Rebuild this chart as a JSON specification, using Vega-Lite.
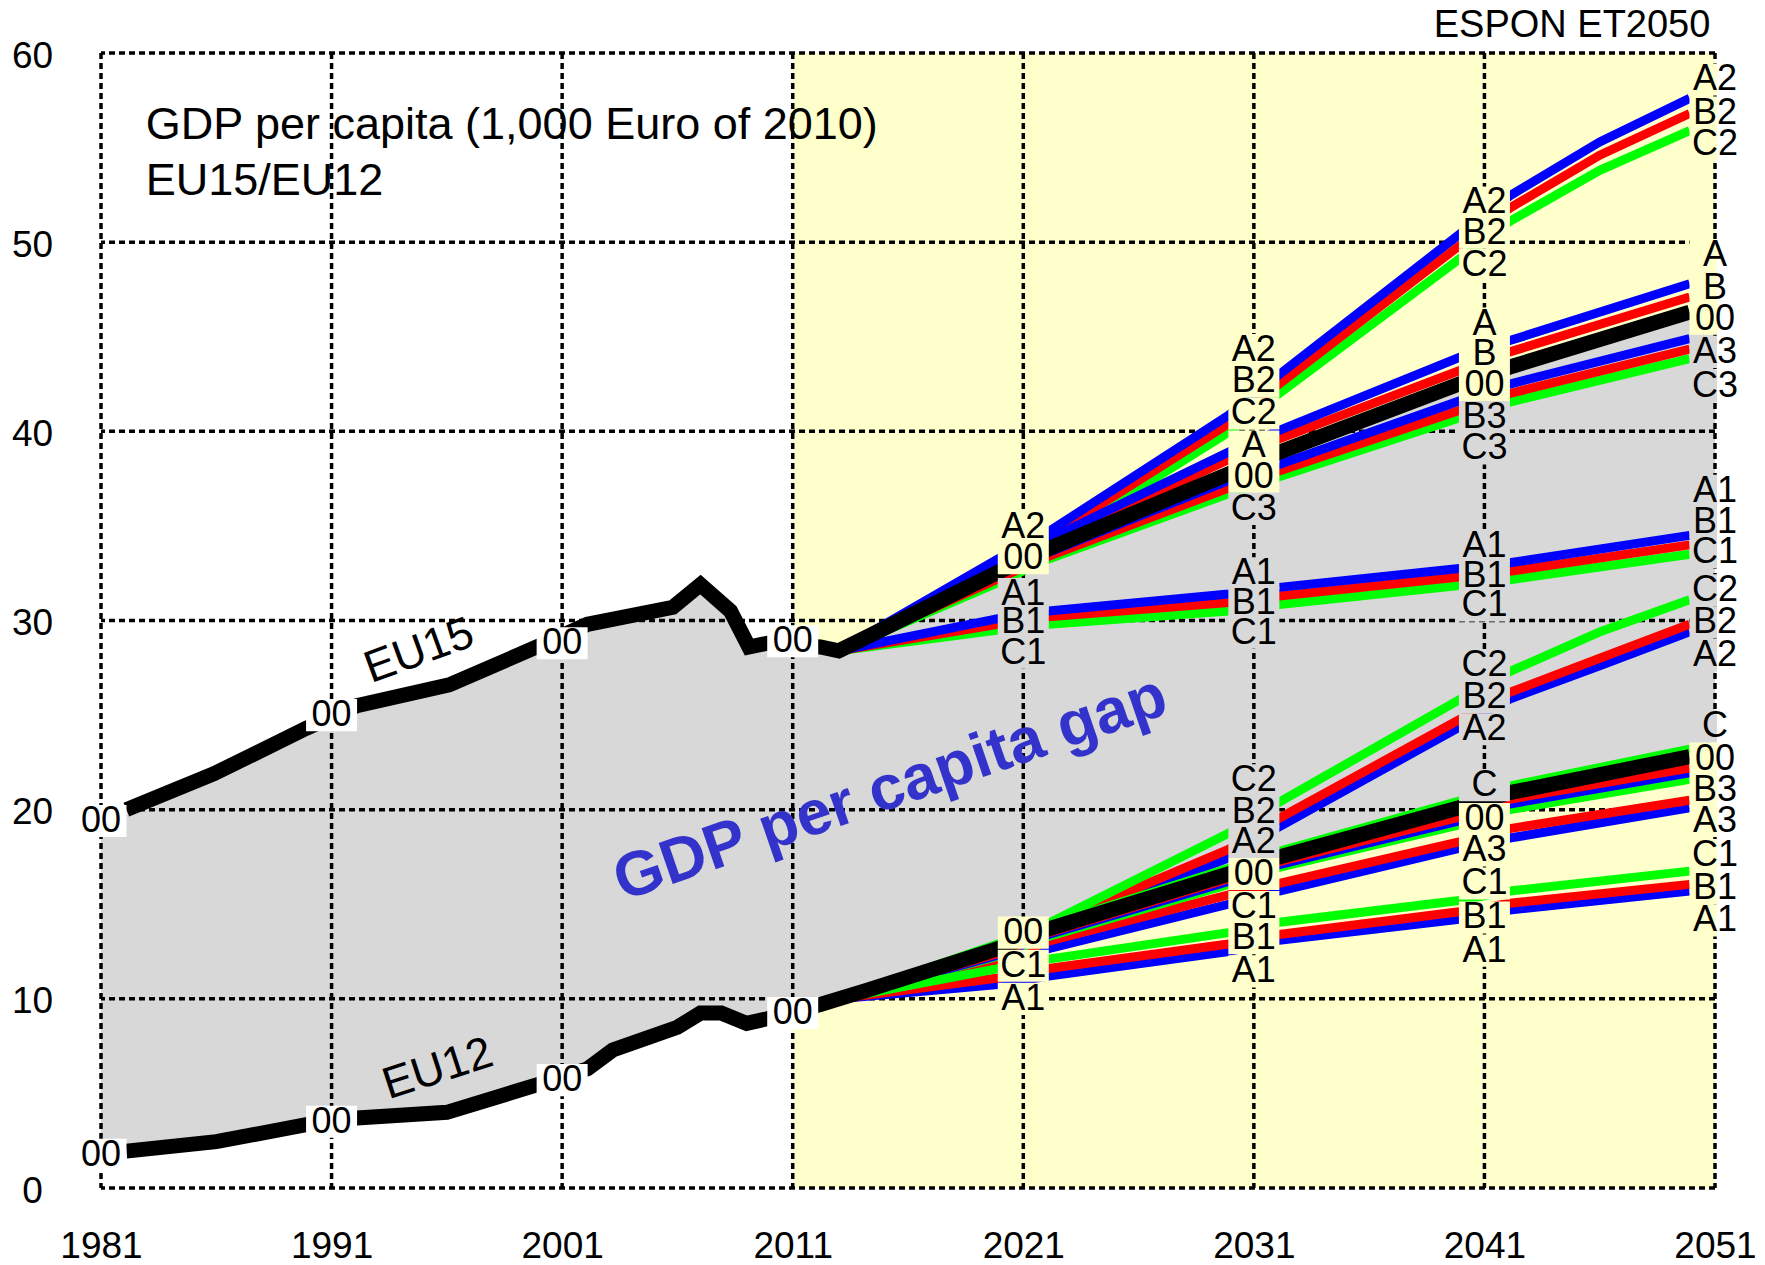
{
"$schema":"https://vega.github.io/schema/vega-lite/v6.json",
"width":1614,"height":1135,
"autosize":{"type":"none"},
"padding":{"left":101,"top":53,"right":50,"bottom":77},
"background":"white",
"config":{"view":{"stroke":null},"font":"Liberation Sans","axis":{"labelFont":"Liberation Sans","labelFontSize":37,"labelColor":"black","ticks":false,"domain":false,"grid":false}},
"resolve":{"scale":{"color":"independent"}},
"datasets":{
"gap":[
{"x":1981,"y":19.4,"y2":1.75},{"x":1982.1,"y":20.0,"y2":1.95},{"x":1985.9,"y":21.9,"y2":2.45},{"x":1989.9,"y":24.3,"y2":3.35},
{"x":1992.1,"y":25.5,"y2":3.7},{"x":1996.1,"y":26.6,"y2":4.0},{"x":1999.9,"y":28.6,"y2":5.45},{"x":2002.1,"y":29.8,"y2":6.3},
{"x":2003.2,"y":30.0,"y2":7.3},{"x":2005.8,"y":30.7,"y2":8.45},{"x":2007.0,"y":31.9,"y2":9.25},{"x":2007.9,"y":31.0,"y2":9.25},
{"x":2008.3,"y":30.5,"y2":9.1},{"x":2009.1,"y":28.6,"y2":8.7},{"x":2009.9,"y":28.8,"y2":8.95},{"x":2012.2,"y":28.6,"y2":9.7},
{"x":2013.0,"y":28.4,"y2":10.0},{"x":2021,"y":33.0,"y2":13.6},{"x":2031,"y":37.8,"y2":17.5},{"x":2041,"y":42.9,"y2":20.9},{"x":2051,"y":46.5,"y2":23.6}
],
"blk":[
{"r":"15","x":1982.1,"y":20.0},{"r":"15","x":1985.9,"y":21.9},{"r":"15","x":1989.9,"y":24.3},{"r":"15","x":1992.1,"y":25.5},
{"r":"15","x":1996.1,"y":26.6},{"r":"15","x":1999.9,"y":28.6},{"r":"15","x":2002.1,"y":29.8},{"r":"15","x":2005.8,"y":30.7},
{"r":"15","x":2007.0,"y":31.9},{"r":"15","x":2008.3,"y":30.5},{"r":"15","x":2009.1,"y":28.6},{"r":"15","x":2009.9,"y":28.8},
{"r":"15","x":2012.2,"y":28.6},{"r":"15","x":2013.0,"y":28.4},{"r":"15","x":2019.9,"y":32.55},{"r":"15","x":2022.1,"y":33.8},
{"r":"15","x":2029.9,"y":37.75},{"r":"15","x":2032.1,"y":38.9},{"r":"15","x":2039.9,"y":42.5},{"r":"15","x":2042.1,"y":43.4},
{"r":"15","x":2049.9,"y":46.3},
{"r":"12","x":1982.1,"y":1.95},{"r":"12","x":1986.0,"y":2.45},{"r":"12","x":1989.9,"y":3.35},{"r":"12","x":1992.1,"y":3.7},
{"r":"12","x":1996.0,"y":4.0},{"r":"12","x":1999.9,"y":5.45},{"r":"12","x":2002.1,"y":6.3},{"r":"12","x":2003.2,"y":7.3},
{"r":"12","x":2006.0,"y":8.5},{"r":"12","x":2007.0,"y":9.25},{"r":"12","x":2007.9,"y":9.25},{"r":"12","x":2009.0,"y":8.7},
{"r":"12","x":2009.9,"y":8.95},{"r":"12","x":2012.2,"y":9.7},{"r":"12","x":2014.2,"y":10.45},{"r":"12","x":2019.9,"y":12.65},
{"r":"12","x":2022.1,"y":13.7},{"r":"12","x":2029.9,"y":16.6},{"r":"12","x":2032.1,"y":17.5},{"r":"12","x":2039.9,"y":20.1},
{"r":"12","x":2042.1,"y":20.9},{"r":"12","x":2049.9,"y":22.8}
],
"col":[
{"r":"15","s":"C2","x":2013,"y":28.4},{"r":"15","s":"C2","x":2019.9,"y":32.8},{"r":"15","s":"C2","x":2022.1,"y":34.0},{"r":"15","s":"C2","x":2029.9,"y":39.95},{"r":"15","s":"C2","x":2032.1,"y":42.0},{"r":"15","s":"C2","x":2039.9,"y":49.1},{"r":"15","s":"C2","x":2042.1,"y":51.1},{"r":"15","s":"C2","x":2046,"y":53.8},{"r":"15","s":"C2","x":2049.9,"y":55.9},
{"r":"15","s":"B2","x":2013,"y":28.4},{"r":"15","s":"B2","x":2019.9,"y":33.0},{"r":"15","s":"B2","x":2022.1,"y":34.4},{"r":"15","s":"B2","x":2029.9,"y":40.4},{"r":"15","s":"B2","x":2032.1,"y":42.5},{"r":"15","s":"B2","x":2039.9,"y":49.8},{"r":"15","s":"B2","x":2042.1,"y":51.8},{"r":"15","s":"B2","x":2046,"y":54.6},{"r":"15","s":"B2","x":2049.9,"y":56.8},
{"r":"15","s":"A2","x":2013,"y":28.4},{"r":"15","s":"A2","x":2019.9,"y":33.25},{"r":"15","s":"A2","x":2022.1,"y":34.7},{"r":"15","s":"A2","x":2029.9,"y":40.85},{"r":"15","s":"A2","x":2032.1,"y":43.0},{"r":"15","s":"A2","x":2039.9,"y":50.4},{"r":"15","s":"A2","x":2042.1,"y":52.45},{"r":"15","s":"A2","x":2046,"y":55.3},{"r":"15","s":"A2","x":2049.9,"y":57.6},
{"r":"15","s":"C3","x":2013,"y":28.4},{"r":"15","s":"C3","x":2019.9,"y":32.0},{"r":"15","s":"C3","x":2022.1,"y":33.25},{"r":"15","s":"C3","x":2029.9,"y":36.7},{"r":"15","s":"C3","x":2032.1,"y":37.6},{"r":"15","s":"C3","x":2039.9,"y":40.7},{"r":"15","s":"C3","x":2042.1,"y":41.55},{"r":"15","s":"C3","x":2049.9,"y":43.85},
{"r":"15","s":"B3","x":2013,"y":28.4},{"r":"15","s":"B3","x":2019.9,"y":32.2},{"r":"15","s":"B3","x":2022.1,"y":33.4},{"r":"15","s":"B3","x":2029.9,"y":37.0},{"r":"15","s":"B3","x":2032.1,"y":37.9},{"r":"15","s":"B3","x":2039.9,"y":41.1},{"r":"15","s":"B3","x":2042.1,"y":42.0},{"r":"15","s":"B3","x":2049.9,"y":44.35},
{"r":"15","s":"A3","x":2013,"y":28.4},{"r":"15","s":"A3","x":2019.9,"y":32.4},{"r":"15","s":"A3","x":2022.1,"y":33.6},{"r":"15","s":"A3","x":2029.9,"y":37.4},{"r":"15","s":"A3","x":2032.1,"y":38.25},{"r":"15","s":"A3","x":2039.9,"y":41.6},{"r":"15","s":"A3","x":2042.1,"y":42.5},{"r":"15","s":"A3","x":2049.9,"y":44.9},
{"r":"15","s":"B","x":2013,"y":28.4},{"r":"15","s":"B","x":2019.9,"y":32.75},{"r":"15","s":"B","x":2022.1,"y":34.1},{"r":"15","s":"B","x":2029.9,"y":38.5},{"r":"15","s":"B","x":2032.1,"y":39.6},{"r":"15","s":"B","x":2039.9,"y":43.2},{"r":"15","s":"B","x":2042.1,"y":44.2},{"r":"15","s":"B","x":2049.9,"y":47.1},
{"r":"15","s":"A","x":2013,"y":28.4},{"r":"15","s":"A","x":2019.9,"y":32.9},{"r":"15","s":"A","x":2022.1,"y":34.3},{"r":"15","s":"A","x":2029.9,"y":38.9},{"r":"15","s":"A","x":2032.1,"y":40.05},{"r":"15","s":"A","x":2039.9,"y":43.9},{"r":"15","s":"A","x":2042.1,"y":44.8},{"r":"15","s":"A","x":2049.9,"y":47.8},
{"r":"15","s":"C1","x":2013,"y":28.4},{"r":"15","s":"C1","x":2019.9,"y":29.5},{"r":"15","s":"C1","x":2022.1,"y":29.8},{"r":"15","s":"C1","x":2029.9,"y":30.5},{"r":"15","s":"C1","x":2032.1,"y":30.85},{"r":"15","s":"C1","x":2039.9,"y":31.85},{"r":"15","s":"C1","x":2042.1,"y":32.15},{"r":"15","s":"C1","x":2049.9,"y":33.5},
{"r":"15","s":"B1","x":2013,"y":28.4},{"r":"15","s":"B1","x":2019.9,"y":29.8},{"r":"15","s":"B1","x":2022.1,"y":30.2},{"r":"15","s":"B1","x":2029.9,"y":30.95},{"r":"15","s":"B1","x":2032.1,"y":31.3},{"r":"15","s":"B1","x":2039.9,"y":32.3},{"r":"15","s":"B1","x":2042.1,"y":32.6},{"r":"15","s":"B1","x":2049.9,"y":34.0},
{"r":"15","s":"A1","x":2013,"y":28.4},{"r":"15","s":"A1","x":2019.9,"y":30.1},{"r":"15","s":"A1","x":2022.1,"y":30.5},{"r":"15","s":"A1","x":2029.9,"y":31.4},{"r":"15","s":"A1","x":2032.1,"y":31.75},{"r":"15","s":"A1","x":2039.9,"y":32.75},{"r":"15","s":"A1","x":2042.1,"y":33.05},{"r":"15","s":"A1","x":2049.9,"y":34.5},
{"r":"12","s":"A2","x":2013,"y":10.0},{"r":"12","s":"A2","x":2019.9,"y":12.75},{"r":"12","s":"A2","x":2022.1,"y":13.8},{"r":"12","s":"A2","x":2029.9,"y":17.45},{"r":"12","s":"A2","x":2032.1,"y":19.1},{"r":"12","s":"A2","x":2039.9,"y":24.35},{"r":"12","s":"A2","x":2042.1,"y":25.85},{"r":"12","s":"A2","x":2046,"y":27.6},{"r":"12","s":"A2","x":2049.9,"y":29.4},
{"r":"12","s":"B2","x":2013,"y":10.0},{"r":"12","s":"B2","x":2019.9,"y":12.8},{"r":"12","s":"B2","x":2022.1,"y":13.9},{"r":"12","s":"B2","x":2029.9,"y":17.9},{"r":"12","s":"B2","x":2032.1,"y":19.55},{"r":"12","s":"B2","x":2039.9,"y":24.75},{"r":"12","s":"B2","x":2042.1,"y":26.2},{"r":"12","s":"B2","x":2046,"y":28.0},{"r":"12","s":"B2","x":2049.9,"y":29.8},
{"r":"12","s":"C2","x":2013,"y":10.0},{"r":"12","s":"C2","x":2019.9,"y":12.9},{"r":"12","s":"C2","x":2022.1,"y":14.0},{"r":"12","s":"C2","x":2029.9,"y":18.75},{"r":"12","s":"C2","x":2032.1,"y":20.4},{"r":"12","s":"C2","x":2039.9,"y":25.8},{"r":"12","s":"C2","x":2042.1,"y":27.3},{"r":"12","s":"C2","x":2046,"y":29.4},{"r":"12","s":"C2","x":2049.9,"y":31.1},
{"r":"12","s":"A3","x":2013,"y":10.0},{"r":"12","s":"A3","x":2019.9,"y":11.85},{"r":"12","s":"A3","x":2022.1,"y":12.65},{"r":"12","s":"A3","x":2029.9,"y":15.0},{"r":"12","s":"A3","x":2032.1,"y":15.7},{"r":"12","s":"A3","x":2039.9,"y":17.95},{"r":"12","s":"A3","x":2042.1,"y":18.5},{"r":"12","s":"A3","x":2049.9,"y":20.1},
{"r":"12","s":"B3","x":2013,"y":10.0},{"r":"12","s":"B3","x":2019.9,"y":12.0},{"r":"12","s":"B3","x":2022.1,"y":13.05},{"r":"12","s":"B3","x":2029.9,"y":15.5},{"r":"12","s":"B3","x":2032.1,"y":16.1},{"r":"12","s":"B3","x":2039.9,"y":18.3},{"r":"12","s":"B3","x":2042.1,"y":19.0},{"r":"12","s":"B3","x":2049.9,"y":20.5},
{"r":"12","s":"C3","x":2013,"y":10.0},{"r":"12","s":"C3","x":2019.9,"y":12.25},{"r":"12","s":"C3","x":2022.1,"y":13.3},{"r":"12","s":"C3","x":2029.9,"y":16.05},{"r":"12","s":"C3","x":2032.1,"y":16.95},{"r":"12","s":"C3","x":2039.9,"y":19.2},{"r":"12","s":"C3","x":2042.1,"y":20.0},{"r":"12","s":"C3","x":2049.9,"y":21.6},
{"r":"12","s":"A","x":2013,"y":10.0},{"r":"12","s":"A","x":2019.9,"y":12.3},{"r":"12","s":"A","x":2022.1,"y":13.4},{"r":"12","s":"A","x":2029.9,"y":16.2},{"r":"12","s":"A","x":2032.1,"y":17.1},{"r":"12","s":"A","x":2039.9,"y":19.4},{"r":"12","s":"A","x":2042.1,"y":20.3},{"r":"12","s":"A","x":2049.9,"y":21.95},
{"r":"12","s":"B","x":2013,"y":10.0},{"r":"12","s":"B","x":2019.9,"y":12.4},{"r":"12","s":"B","x":2022.1,"y":13.5},{"r":"12","s":"B","x":2029.9,"y":16.35},{"r":"12","s":"B","x":2032.1,"y":17.25},{"r":"12","s":"B","x":2039.9,"y":19.6},{"r":"12","s":"B","x":2042.1,"y":20.55},{"r":"12","s":"B","x":2049.9,"y":22.2},
{"r":"12","s":"C","x":2013,"y":10.0},{"r":"12","s":"C","x":2019.9,"y":12.85},{"r":"12","s":"C","x":2022.1,"y":13.9},{"r":"12","s":"C","x":2029.9,"y":16.9},{"r":"12","s":"C","x":2032.1,"y":17.8},{"r":"12","s":"C","x":2039.9,"y":20.45},{"r":"12","s":"C","x":2042.1,"y":21.25},{"r":"12","s":"C","x":2049.9,"y":23.2},
{"r":"12","s":"A1","x":2013,"y":10.0},{"r":"12","s":"A1","x":2019.9,"y":10.75},{"r":"12","s":"A1","x":2022.1,"y":11.2},{"r":"12","s":"A1","x":2029.9,"y":12.5},{"r":"12","s":"A1","x":2032.1,"y":13.1},{"r":"12","s":"A1","x":2039.9,"y":14.2},{"r":"12","s":"A1","x":2042.1,"y":14.7},{"r":"12","s":"A1","x":2049.9,"y":15.7},
{"r":"12","s":"B1","x":2013,"y":10.0},{"r":"12","s":"B1","x":2019.9,"y":11.1},{"r":"12","s":"B1","x":2022.1,"y":11.6},{"r":"12","s":"B1","x":2029.9,"y":12.9},{"r":"12","s":"B1","x":2032.1,"y":13.4},{"r":"12","s":"B1","x":2039.9,"y":14.6},{"r":"12","s":"B1","x":2042.1,"y":15.05},{"r":"12","s":"B1","x":2049.9,"y":16.05},
{"r":"12","s":"C1","x":2013,"y":10.0},{"r":"12","s":"C1","x":2019.9,"y":11.6},{"r":"12","s":"C1","x":2022.1,"y":12.1},{"r":"12","s":"C1","x":2029.9,"y":13.5},{"r":"12","s":"C1","x":2032.1,"y":14.05},{"r":"12","s":"C1","x":2039.9,"y":15.2},{"r":"12","s":"C1","x":2042.1,"y":15.7},{"r":"12","s":"C1","x":2049.9,"y":16.75}
],
"lab":[
{"x":1981,"y":19.4,"t":"00","z":"past"},{"x":1991,"y":25.0,"t":"00","z":"past"},{"x":2001,"y":28.8,"t":"00","z":"past"},{"x":2011,"y":28.9,"t":"00","z":"past"},
{"x":1981,"y":1.75,"t":"00","z":"past"},{"x":1991,"y":3.5,"t":"00","z":"past"},{"x":2001,"y":5.7,"t":"00","z":"past"},{"x":2011,"y":9.25,"t":"00","z":"past"},
{"x":2021,"y":34.95,"t":"A2","z":"future"},{"x":2021,"y":33.3,"t":"00","z":"future"},{"x":2021,"y":31.4,"t":"A1","z":"gap"},{"x":2021,"y":29.9,"t":"B1","z":"gap"},{"x":2021,"y":28.3,"t":"C1","z":"gap"},
{"x":2021,"y":13.5,"t":"00","z":"future"},{"x":2021,"y":11.75,"t":"C1","z":"future"},{"x":2021,"y":10.0,"t":"A1","z":"future"},
{"x":2031,"y":44.3,"t":"A2","z":"future"},{"x":2031,"y":42.65,"t":"B2","z":"future"},{"x":2031,"y":40.95,"t":"C2","z":"future"},{"x":2031,"y":39.2,"t":"A","z":"future"},{"x":2031,"y":37.6,"t":"00","z":"future"},{"x":2031,"y":35.9,"t":"C3","z":"gap"},
{"x":2031,"y":32.5,"t":"A1","z":"gap"},{"x":2031,"y":30.95,"t":"B1","z":"gap"},{"x":2031,"y":29.35,"t":"C1","z":"gap"},
{"x":2031,"y":21.55,"t":"C2","z":"gap"},{"x":2031,"y":19.9,"t":"B2","z":"gap"},{"x":2031,"y":18.3,"t":"A2","z":"gap"},{"x":2031,"y":16.6,"t":"00","z":"future"},{"x":2031,"y":14.85,"t":"C1","z":"future"},{"x":2031,"y":13.2,"t":"B1","z":"future"},{"x":2031,"y":11.45,"t":"A1","z":"future"},
{"x":2041,"y":52.1,"t":"A2","z":"future"},{"x":2041,"y":50.5,"t":"B2","z":"future"},{"x":2041,"y":48.8,"t":"C2","z":"future"},{"x":2041,"y":45.7,"t":"A","z":"future"},{"x":2041,"y":44.1,"t":"B","z":"future"},{"x":2041,"y":42.45,"t":"00","z":"future"},{"x":2041,"y":40.75,"t":"B3","z":"gap"},{"x":2041,"y":39.1,"t":"C3","z":"gap"},
{"x":2041,"y":33.95,"t":"A1","z":"gap"},{"x":2041,"y":32.35,"t":"B1","z":"gap"},{"x":2041,"y":30.8,"t":"C1","z":"gap"},
{"x":2041,"y":27.65,"t":"C2","z":"gap"},{"x":2041,"y":25.95,"t":"B2","z":"gap"},{"x":2041,"y":24.25,"t":"A2","z":"gap"},{"x":2041,"y":21.3,"t":"C","z":"gap"},{"x":2041,"y":19.5,"t":"00","z":"future"},{"x":2041,"y":17.85,"t":"A3","z":"future"},{"x":2041,"y":16.1,"t":"C1","z":"future"},{"x":2041,"y":14.3,"t":"B1","z":"future"},{"x":2041,"y":12.55,"t":"A1","z":"future"},
{"x":2051,"y":58.6,"t":"A2","z":"future"},{"x":2051,"y":56.85,"t":"B2","z":"future"},{"x":2051,"y":55.2,"t":"C2","z":"future"},{"x":2051,"y":49.3,"t":"A","z":"future"},{"x":2051,"y":47.6,"t":"B","z":"future"},{"x":2051,"y":45.95,"t":"00","z":"future"},{"x":2051,"y":44.2,"t":"A3","z":"gap"},{"x":2051,"y":42.4,"t":"C3","z":"gap"},
{"x":2051,"y":36.85,"t":"A1","z":"gap"},{"x":2051,"y":35.2,"t":"B1","z":"gap"},{"x":2051,"y":33.6,"t":"C1","z":"gap"},
{"x":2051,"y":31.6,"t":"C2","z":"gap"},{"x":2051,"y":29.9,"t":"B2","z":"gap"},{"x":2051,"y":28.15,"t":"A2","z":"gap"},{"x":2051,"y":24.4,"t":"C","z":"gap"},{"x":2051,"y":22.7,"t":"00","z":"future"},{"x":2051,"y":21.05,"t":"B3","z":"future"},{"x":2051,"y":19.4,"t":"A3","z":"future"},{"x":2051,"y":17.6,"t":"C1","z":"future"},{"x":2051,"y":15.85,"t":"B1","z":"future"},{"x":2051,"y":14.15,"t":"A1","z":"future"}
]
},
"layer":[
{"data":{"values":[{"x":1981},{"x":1991},{"x":2001},{"x":2011},{"x":2021},{"x":2031},{"x":2041},{"x":2051}]},
 "mark":{"type":"rule","color":"black","strokeWidth":0},
 "encoding":{"x":{"field":"x","type":"quantitative","title":null,"scale":{"domain":[1981,2051],"nice":false,"zero":false},
   "axis":{"values":[1981,1991,2001,2011,2021,2031,2041,2051],"format":"d","labelPadding":40,"labelFlush":false,"labelOverlap":false}}}},
{"data":{"values":[{"y":0},{"y":10},{"y":20},{"y":30},{"y":40},{"y":50},{"y":60}]},
 "mark":{"type":"rule","color":"black","strokeWidth":0},
 "encoding":{"y":{"field":"y","type":"quantitative","title":null,"scale":{"domain":[0,60],"nice":false,"zero":false},
   "axis":{"values":[0,10,20,30,40,50,60],"labelPadding":69,"labelAlign":"center","labelOffset":3,"labelFlush":false,"labelOverlap":false}}}},
{"data":{"values":[{"x":2011,"x2":2051,"y":0,"y2":60}]},
 "mark":{"type":"rect","color":"#FFFFCC"},
 "encoding":{
  "x":{"field":"x","type":"quantitative","title":null,"scale":{"domain":[1981,2051],"nice":false,"zero":false}},
  "x2":{"field":"x2"},
  "y":{"field":"y","type":"quantitative","title":null,"scale":{"domain":[0,60],"nice":false,"zero":false}},
  "y2":{"field":"y2"}
 }},
{"data":{"name":"gap"},
 "mark":{"type":"area","color":"#D8D8D8"},
 "encoding":{
  "x":{"field":"x","type":"quantitative","title":null,"scale":{"domain":[1981,2051],"nice":false,"zero":false}},
  "y":{"field":"y","type":"quantitative","title":null,"scale":{"domain":[0,60],"nice":false,"zero":false}},
  "y2":{"field":"y2"}
 }},
{"data":{"values":[{"x":1981},{"x":1991},{"x":2001},{"x":2011},{"x":2021},{"x":2031},{"x":2041},{"x":2051}]},
 "mark":{"type":"rule","color":"black","strokeWidth":3.5,"strokeDash":[6,4]},
 "encoding":{"x":{"field":"x","type":"quantitative","title":null,"scale":{"domain":[1981,2051],"nice":false,"zero":false}}}},
{"data":{"values":[{"y":0},{"y":10},{"y":20},{"y":30},{"y":40},{"y":50},{"y":60}]},
 "mark":{"type":"rule","color":"black","strokeWidth":3.5,"strokeDash":[6,4]},
 "encoding":{"y":{"field":"y","type":"quantitative","title":null,"scale":{"domain":[0,60],"nice":false,"zero":false}}}},
{"data":{"name":"col"},
 "mark":{"type":"line","strokeWidth":9},
 "encoding":{
  "x":{"field":"x","type":"quantitative","title":null,"scale":{"domain":[1981,2051],"nice":false,"zero":false}},
  "y":{"field":"y","type":"quantitative","title":null,"scale":{"domain":[0,60],"nice":false,"zero":false}},
  "color":{"field":"s","type":"nominal","legend":null,"scale":{"domain":["A2","B2","C2","A","B","C","A3","B3","C3","A1","B1","C1"],"range":["#0000FF","#FF0000","#00FF00","#0000FF","#FF0000","#00FF00","#0000FF","#FF0000","#00FF00","#0000FF","#FF0000","#00FF00"]}},
  "detail":{"field":"r"}
 }},
{"data":{"name":"blk"},
 "mark":{"type":"line","strokeWidth":15,"color":"black"},
 "encoding":{
  "x":{"field":"x","type":"quantitative","title":null,"scale":{"domain":[1981,2051],"nice":false,"zero":false}},
  "y":{"field":"y","type":"quantitative","title":null,"scale":{"domain":[0,60],"nice":false,"zero":false}},
  "detail":{"field":"r"}
 }},
{"data":{"name":"lab"},
 "transform":[{"filter":"datum.x < 2050"}],
 "mark":{"type":"point","shape":"M-1,-0.63L1,-0.63L1,0.63L-1,0.63Z","filled":true,"size":2601,"opacity":1,"strokeWidth":0},
 "encoding":{
  "x":{"field":"x","type":"quantitative","title":null,"scale":{"domain":[1981,2051],"nice":false,"zero":false}},
  "y":{"field":"y","type":"quantitative","title":null,"scale":{"domain":[0,60],"nice":false,"zero":false}},
  "color":{"field":"z","type":"nominal","legend":null,"scale":{"domain":["past","future","gap"],"range":["#FFFFFF","#FFFFCC","#D8D8D8"]}}
 }},
{"data":{"name":"lab"},
 "transform":[{"filter":"datum.x >= 2050"}],
 "mark":{"type":"point","shape":"M-1,-0.63L0.08,-0.63L0.08,0.63L-1,0.63Z","filled":true,"size":2601,"opacity":1,"strokeWidth":0},
 "encoding":{
  "x":{"field":"x","type":"quantitative","title":null,"scale":{"domain":[1981,2051],"nice":false,"zero":false}},
  "y":{"field":"y","type":"quantitative","title":null,"scale":{"domain":[0,60],"nice":false,"zero":false}},
  "color":{"field":"z","type":"nominal","legend":null,"scale":{"domain":["past","future","gap"],"range":["#FFFFFF","#FFFFCC","#D8D8D8"]}}
 }},
{"data":{"name":"lab"},
 "mark":{"type":"text","fontSize":36,"font":"Liberation Sans","align":"center","baseline":"middle","color":"black"},
 "encoding":{
  "x":{"field":"x","type":"quantitative","title":null,"scale":{"domain":[1981,2051],"nice":false,"zero":false}},
  "y":{"field":"y","type":"quantitative","title":null,"scale":{"domain":[0,60],"nice":false,"zero":false}},
  "text":{"field":"t"}
 }},
{"data":{"values":[{"x":1982.94,"y":56.2,"t":"GDP per capita (1,000 Euro of 2010)"},{"x":1982.94,"y":53.25,"t":"EU15/EU12"}]},
 "mark":{"type":"text","fontSize":45,"font":"Liberation Sans","align":"left","baseline":"middle","color":"black"},
 "encoding":{
  "x":{"field":"x","type":"quantitative","title":null,"scale":{"domain":[1981,2051],"nice":false,"zero":false}},
  "y":{"field":"y","type":"quantitative","title":null,"scale":{"domain":[0,60],"nice":false,"zero":false}},
  "text":{"field":"t"}
 }},
{"data":{"values":[{"x":2050.8,"y":61.45,"t":"ESPON ET2050"}]},
 "mark":{"type":"text","fontSize":38,"font":"Liberation Sans","align":"right","baseline":"middle","color":"black"},
 "encoding":{
  "x":{"field":"x","type":"quantitative","title":null,"scale":{"domain":[1981,2051],"nice":false,"zero":false}},
  "y":{"field":"y","type":"quantitative","title":null,"scale":{"domain":[0,60],"nice":false,"zero":false}},
  "text":{"field":"t"}
 }},
{"data":{"values":[{"x":1994.8,"y":28.4,"t":"EU15"}]},
 "mark":{"type":"text","fontSize":45,"font":"Liberation Sans","align":"center","baseline":"middle","color":"black","angle":-20},
 "encoding":{
  "x":{"field":"x","type":"quantitative","title":null,"scale":{"domain":[1981,2051],"nice":false,"zero":false}},
  "y":{"field":"y","type":"quantitative","title":null,"scale":{"domain":[0,60],"nice":false,"zero":false}},
  "text":{"field":"t"}
 }},
{"data":{"values":[{"x":1995.6,"y":6.3,"t":"EU12"}]},
 "mark":{"type":"text","fontSize":45,"font":"Liberation Sans","align":"center","baseline":"middle","color":"black","angle":-18},
 "encoding":{
  "x":{"field":"x","type":"quantitative","title":null,"scale":{"domain":[1981,2051],"nice":false,"zero":false}},
  "y":{"field":"y","type":"quantitative","title":null,"scale":{"domain":[0,60],"nice":false,"zero":false}},
  "text":{"field":"t"}
 }},
{"data":{"values":[{"x":2015.24,"y":21.1,"t":"GDP per capita gap"}]},
 "mark":{"type":"text","fontSize":63,"font":"Liberation Sans","fontWeight":"bold","align":"center","baseline":"middle","color":"#3333CC","angle":-19},
 "encoding":{
  "x":{"field":"x","type":"quantitative","title":null,"scale":{"domain":[1981,2051],"nice":false,"zero":false}},
  "y":{"field":"y","type":"quantitative","title":null,"scale":{"domain":[0,60],"nice":false,"zero":false}},
  "text":{"field":"t"}
 }}
]
}
